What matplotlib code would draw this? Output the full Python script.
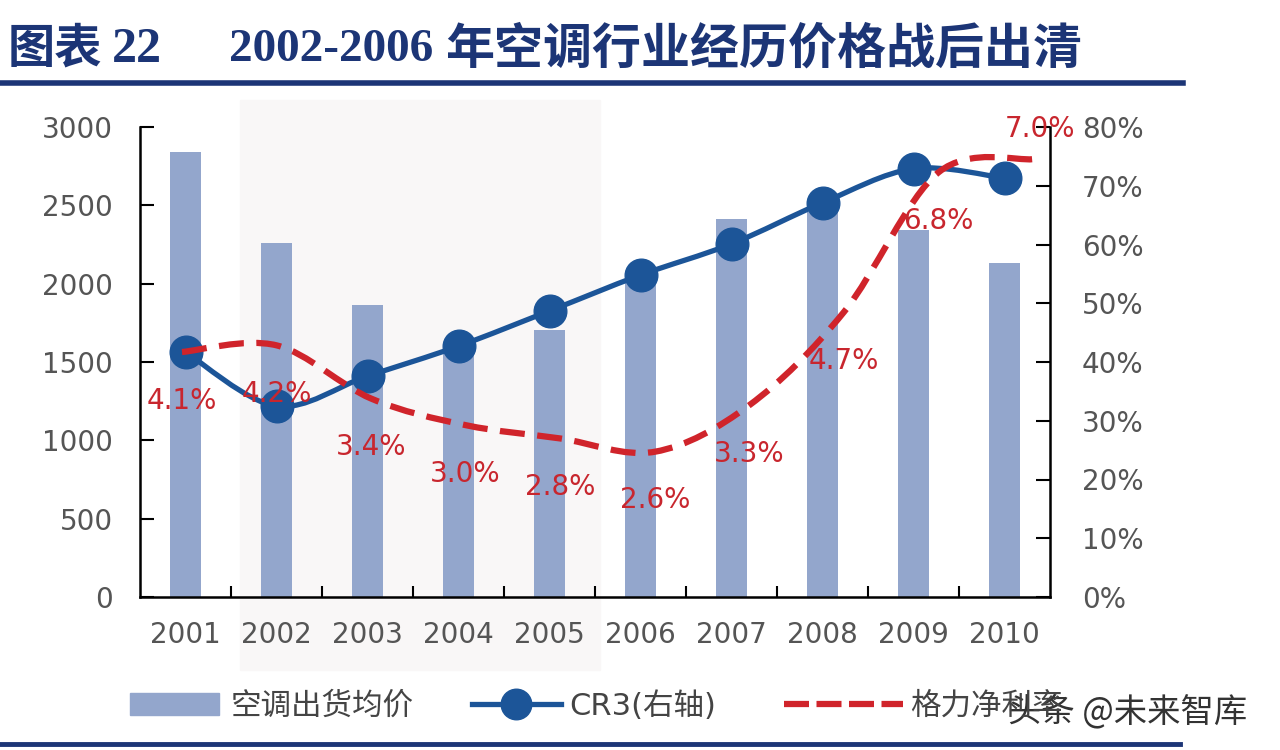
import numpy as np
import matplotlib.pyplot as plt
from matplotlib.path import Path
from matplotlib.patches import PathPatch, Rectangle
from matplotlib.lines import Line2D

plt.rcParams['font.family'] = ['DejaVu Sans', 'Noto Sans CJK SC']

# data
years = ['2001', '2002', '2003', '2004', '2005', '2006', '2007', '2008', '2009', '2010']
price = [2840, 2260, 1864, 1580, 1704, 2040, 2413, 2457, 2343, 2132]   # 空调出货均价
cr3 = [41.7, 32.5, 37.6, 42.7, 48.7, 54.8, 60.1, 67.1, 72.9, 71.3]      # CR3 (%), right axis
margin = [4.1, 4.2, 3.4, 3.0, 2.8, 2.6, 3.3, 4.7, 6.8, 7.0]             # 格力净利率 (%)
margin_labels = ['4.1%', '4.2%', '3.4%', '3.0%', '2.8%', '2.6%', '3.3%', '4.7%', '6.8%', '7.0%']

BAR = '#93a6cc'
BLUE = '#1c5598'
RED = '#d0242b'
GREY = '#555555'
NAVY = '#1c3576'


def smooth_path(xs, ys, t=1 / 6):
    # catmull-rom style bezier through the points (like excel "smoothed line")
    pts = np.column_stack([xs, ys]).astype(float)
    verts = [pts[0]]
    codes = [Path.MOVETO]
    n = len(pts)
    for i in range(n - 1):
        p0 = pts[i - 1] if i > 0 else pts[i]
        p1, p2 = pts[i], pts[i + 1]
        p3 = pts[i + 2] if i + 2 < n else pts[i + 1]
        verts += [p1 + (p2 - p0) * t, p2 - (p3 - p1) * t, p2]
        codes += [Path.CURVE4] * 3
    return Path(verts, codes)


fig = plt.figure(figsize=(12.8, 7.5), dpi=100)

# light band behind 2002-2005
fig.add_artist(Rectangle((240 / 1280, 80 / 750), 360 / 1280, 570 / 750,
                         transform=fig.transFigure, color='#f9f7f7', zorder=-10))

pos = [140 / 1280, 153 / 750, 910 / 1280, 470 / 750]
ax = fig.add_axes(pos)
ax.patch.set_alpha(0)
x = np.arange(len(years))
ax.bar(x, price, width=0.34, color=BAR, zorder=2)
ax.set_xlim(-0.5, 9.5)
ax.set_ylim(0, 3000)
ax.set_yticks(range(0, 3001, 500))
ax.set_xticks(x)
ax.set_xticklabels(years)
ax.set_xticks(x[:-1] + 0.5, minor=True)
ax.tick_params(axis='x', which='major', length=0, pad=17, labelsize=20, labelcolor=GREY)
ax.tick_params(axis='x', which='minor', direction='in', length=8, width=1.5)
ax.tick_params(axis='y', direction='in', length=10, width=1.5, pad=19.5, labelsize=20, labelcolor=GREY)
for s in ['top', 'right']:
    ax.spines[s].set_visible(False)
for s in ['left', 'bottom']:
    ax.spines[s].set_linewidth(1.8)

ax2 = ax.twinx()
ax2.set_ylim(0, 80)
ax2.set_yticks(range(0, 81, 10))
ax2.set_yticklabels([f'{v}%' for v in range(0, 81, 10)])
ax2.tick_params(axis='y', direction='in', length=10, width=1.5, pad=23, labelsize=20, labelcolor=GREY)
for s in ['top', 'left', 'bottom']:
    ax2.spines[s].set_visible(False)
ax2.spines['right'].set_linewidth(1.8)
ax2.add_patch(PathPatch(smooth_path(x, cr3), fill=False, edgecolor=BLUE, lw=3.8,
                        capstyle='round', zorder=3))
ax2.plot(x, cr3, 'o', color=BLUE, markersize=23.5, zorder=4)

# hidden axis for the net margin line
ax3 = fig.add_axes(pos)
ax3.patch.set_alpha(0)
ax3.axis('off')
ax3.set_xlim(-0.444, 9.18)
ax3.set_ylim(0.416, 7.483)
ax3.add_patch(PathPatch(smooth_path(x, margin), fill=False, edgecolor=RED, lw=4.5,
                        linestyle=(0, (4, 2)), zorder=5))
for i, (v, lab) in enumerate(zip(margin, margin_labels)):
    off = (5, 22) if i == len(margin) - 1 else (0, -35)
    ax3.annotate(lab, (i, v), xytext=off, textcoords='offset points',
                 ha='center', va='center', fontsize=20, color='#c8262e', zorder=6,
                 annotation_clip=False)

# title
tf = dict(fontweight='bold', color=NAVY, va='center',
          family=['Liberation Serif', 'Noto Sans CJK SC'])
ty = 1 - 50 / 750
fig.text(8 / 1280, ty, '图表', fontsize=34, **tf)
fig.text(112 / 1280, ty, '22', fontsize=36, **tf)
fig.text(229 / 1280, ty, '2002-2006', fontsize=34, **tf)
fig.text(445 / 1280, ty, '年空调行业经历价格战后出清', fontsize=35.3, **tf)
fig.add_artist(Line2D([0, 1183 / 1280], [1 - 83 / 750] * 2, color=NAVY, lw=4,
                      transform=fig.transFigure))
fig.add_artist(Line2D([0, 1180 / 1280], [1 - 744 / 750] * 2, color=NAVY, lw=3.5,
                      transform=fig.transFigure))

# legend: three separate pieces so each handle can have its own length
leg_kw = dict(loc='center left', frameon=False, fontsize=22, borderpad=0,
              borderaxespad=0, labelcolor='#444444')
ly = 1 - 706 / 750
fig.legend([Rectangle((0, 0), 1, 1, color=BAR)], ['空调出货均价'],
           bbox_to_anchor=(130 / 1280, ly), handlelength=2.9, handletextpad=0.38, **leg_kw)
fig.legend([Line2D([], [], color=BLUE, lw=3.8, marker='o', markersize=22)], ['CR3(右轴)'],
           bbox_to_anchor=(472 / 1280, ly), handlelength=2.9, handletextpad=0.28, **leg_kw)
fig.legend([Line2D([], [], color=RED, lw=4.5, linestyle=(0, (4, 1.2)))], ['格力净利率'],
           bbox_to_anchor=(784 / 1280, ly), handlelength=3.9, handletextpad=0.22, **leg_kw)

fig.text(1008 / 1280, 1 - 712 / 750, '头条 @未来智库', fontsize=24, color='#333333',
         va='center', ha='left', family=['Noto Sans CJK SC'],
         bbox=dict(facecolor='white', edgecolor='none', pad=3))

fig.savefig('out.png', dpi=100)
